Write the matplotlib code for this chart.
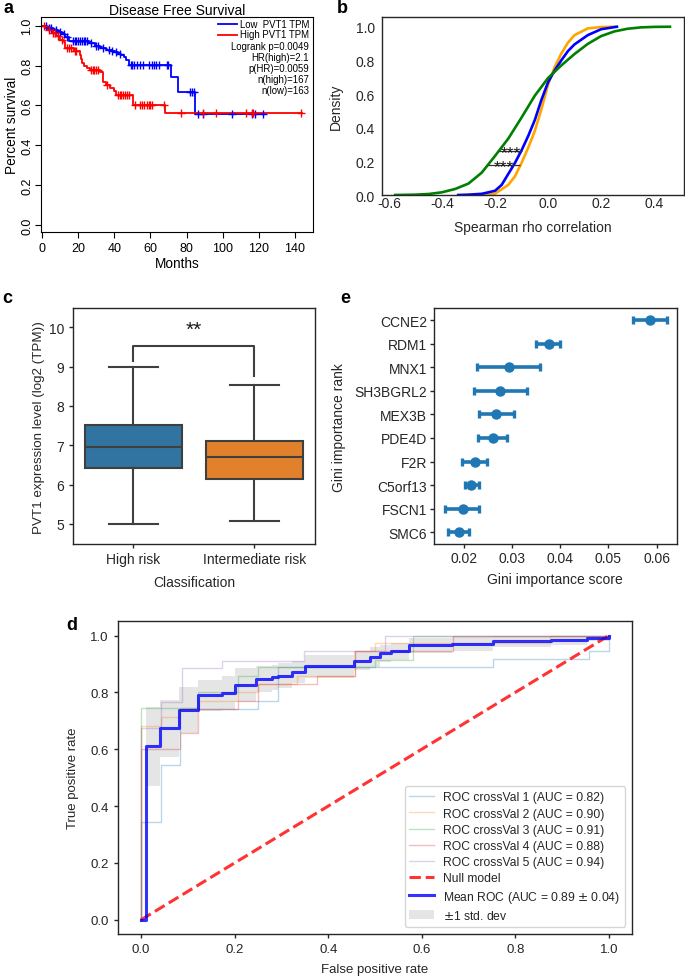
import numpy as np
import matplotlib
matplotlib.use("Agg")
import matplotlib.pyplot as plt
from matplotlib.lines import Line2D
from matplotlib.patches import Patch

plt.rcParams['font.family'] = ['Liberation Sans', 'DejaVu Sans']
plt.rcParams['axes.unicode_minus'] = False

W, H = 685, 979

# ---- a: Kaplan-Meier, disease free survival
low_t = [0, 3, 6, 9, 11, 13, 15, 26, 29.5, 32, 35.5, 38.7, 40.5, 42, 44, 45.5, 46.6, 48, 71.5, 75.5, 84.5, 122.5]
low_s = [1.0, 0.99, 0.98, 0.97, 0.96, 0.945, 0.925, 0.915, 0.90, 0.89, 0.88, 0.875, 0.87, 0.86, 0.855, 0.845,
         0.83, 0.803, 0.742, 0.667, 0.558, 0.558]
low_cens = [2, 4, 5, 8, 10, 12, 14, 17, 18, 19, 20, 21, 22, 23, 24, 25, 27, 30, 31, 34, 37, 39, 41, 43,
            49, 50, 51, 52.5, 54, 56, 59, 61, 62, 63, 65, 69, 70, 82, 83, 84, 86.5, 89, 105, 116, 118, 122.5]
high_t = [0, 2, 3.5, 5.5, 8, 10, 12, 13, 17.5, 20.8, 21.5, 22, 23, 24.9, 26.7, 32, 33.7, 35.5, 37.8, 39.6,
          41, 50.3, 68, 144]
high_s = [1.0, 0.99, 0.98, 0.965, 0.95, 0.93, 0.917, 0.89, 0.875, 0.855, 0.833, 0.815, 0.80, 0.787, 0.778,
          0.767, 0.717, 0.703, 0.687, 0.67, 0.65, 0.60, 0.562, 0.562]
high_cens = [1, 4, 6, 7, 9, 11, 14, 15, 16, 18, 19, 27, 28, 29, 30, 31, 36, 42, 43, 44, 45, 46, 47, 48,
             51.6, 54.4, 55.2, 56.2, 58, 59, 60, 61, 67.3, 77, 89, 96.5, 113, 116, 117, 143.6]
km_stats = ["Logrank p=0.0049", "HR(high)=2.1", "p(HR)=0.0059", "n(high)=167", "n(low)=163"]

# ---- b: cumulative density of spearman rho
green_x = [-0.577, -0.5, -0.45, -0.4, -0.35, -0.3, -0.25, -0.2, -0.15, -0.1, -0.05, 0.0, 0.05, 0.1, 0.15,
           0.2, 0.25, 0.3, 0.35, 0.4, 0.46]
green_y = [0.0, 0.002, 0.006, 0.016, 0.036, 0.068, 0.133, 0.232, 0.335, 0.46, 0.59, 0.695, 0.77, 0.838,
           0.898, 0.944, 0.972, 0.988, 0.996, 0.999, 1.0]
blue_x = [-0.339, -0.3, -0.25, -0.2, -0.175, -0.15, -0.125, -0.1, -0.075, -0.05, -0.025, 0.0, 0.025, 0.05,
          0.075, 0.1, 0.15, 0.2, 0.26]
blue_y = [0.0, 0.002, 0.007, 0.025, 0.06, 0.125, 0.19, 0.265, 0.35, 0.445, 0.565, 0.67, 0.74, 0.80,
          0.855, 0.895, 0.95, 0.985, 1.0]
orange_x = [-0.295, -0.25, -0.2, -0.15, -0.125, -0.1, -0.075, -0.05, -0.025, 0.0, 0.025, 0.05, 0.075, 0.1,
            0.15, 0.2, 0.254]
orange_y = [0.0, 0.001, 0.008, 0.06, 0.11, 0.19, 0.28, 0.38, 0.51, 0.655, 0.76, 0.84, 0.905, 0.95,
            0.99, 0.998, 1.0]
sig_y = [0.263, 0.18]
sig_x0 = [-0.184, -0.226]
sig_x1 = [-0.1, -0.106]

# ---- c: PVT1 expression boxplot
risk_groups = ["High risk", "Intermediate risk"]
box_q1 = [6.42, 6.13]
box_med = [6.95, 6.69]
box_q3 = [7.52, 7.12]
box_lo = [5.0, 5.07]
box_hi = [9.0, 8.53]

# ---- e: gini importance
genes = ["CCNE2", "RDM1", "MNX1", "SH3BGRL2", "MEX3B", "PDE4D", "F2R", "C5orf13", "FSCN1", "SMC6"]
gini_mean = [0.0586, 0.03755, 0.0293, 0.0274, 0.0266, 0.0259, 0.0222, 0.0215, 0.0197, 0.0188]
gini_lo = [0.0551, 0.0350, 0.0226, 0.0220, 0.0230, 0.0229, 0.0195, 0.0201, 0.0160, 0.0167]
gini_hi = [0.0621, 0.0399, 0.0357, 0.0331, 0.0304, 0.0289, 0.0247, 0.0231, 0.0231, 0.0209]

# ---- d: ROC curves of the 5 folds
roc_fpr = [
    [0, 0, 0.042, 0.042, 0.083, 0.083, 0.25, 0.25, 0.293, 0.293, 0.752, 0.752, 0.958, 0.958, 1.0, 1.0],
    [0, 0, 0.042, 0.042, 0.083, 0.083, 0.124, 0.124, 0.2075, 0.2075, 0.25, 0.25, 0.334, 0.334, 0.457,
     0.457, 0.5, 0.5, 0.874, 0.874, 1.0],
    [0, 0, 0.122, 0.122, 0.2075, 0.2075, 0.25, 0.25, 0.5, 0.5, 0.582, 0.582, 1.0],
    [0, 0, 0.083, 0.083, 0.122, 0.122, 0.2075, 0.2075, 0.25, 0.25, 0.375, 0.375, 0.457, 0.457, 0.667,
     0.667, 1.0],
    [0, 0, 0.042, 0.042, 0.0885, 0.0885, 0.173, 0.173, 0.349, 0.349, 0.521, 0.521, 1.0],
]
roc_tpr = [
    [0, 0.344, 0.344, 0.543, 0.543, 0.743, 0.743, 0.771, 0.771, 0.889, 0.889, 0.918, 0.918, 0.945, 0.945, 1.0],
    [0, 0.683, 0.683, 0.713, 0.713, 0.745, 0.745, 0.771, 0.771, 0.80, 0.80, 0.83, 0.83, 0.859, 0.859,
     0.945, 0.945, 0.973, 0.973, 1.0, 1.0],
    [0, 0.745, 0.745, 0.80, 0.80, 0.859, 0.859, 0.889, 0.889, 0.914, 0.914, 1.0, 1.0],
    [0, 0.60, 0.60, 0.658, 0.658, 0.742, 0.742, 0.771, 0.771, 0.83, 0.83, 0.859, 0.859, 0.945, 0.945,
     1.0, 1.0],
    [0, 0.674, 0.674, 0.766, 0.766, 0.885, 0.885, 0.912, 0.912, 0.944, 0.944, 1.0, 1.0],
]
roc_auc = [0.82, 0.90, 0.91, 0.88, 0.94]
mean_fpr = [0, 0.01, 0.04, 0.081, 0.122, 0.173, 0.2, 0.245, 0.28, 0.293, 0.322, 0.35, 0.456, 0.49, 0.51,
            0.534, 0.573, 0.664, 0.752, 0.877, 0.953, 1.0]
mean_tpr = [0, 0.61, 0.674, 0.738, 0.79, 0.798, 0.825, 0.847, 0.853, 0.859, 0.872, 0.892, 0.912, 0.924,
            0.938, 0.945, 0.965, 0.969, 0.980, 0.985, 0.992, 1.0]
std_tpr = [0, 0.14, 0.10, 0.08, 0.055, 0.06, 0.06, 0.045, 0.045, 0.045, 0.04, 0.04, 0.035, 0.035, 0.03,
           0.03, 0.025, 0.025, 0.02, 0.02, 0.01, 0.0]
mean_auc, std_auc = 0.89, 0.04

ink = '.15'


def rect(left, top, right, bottom):
    return [left / W, 1 - bottom / H, (right - left) / W, (bottom - top) / H]


def style_axes(ax):
    for sp in ax.spines.values():
        sp.set_color(ink)
        sp.set_linewidth(1.0)
    ax.tick_params(colors=ink, labelcolor=ink)


fig = plt.figure(figsize=(W / 100, H / 100), dpi=100)

# ---------------- panel a
ax = fig.add_axes(rect(41, 18.3, 313, 233))
ax.step(low_t, low_s, where='post', color='blue', lw=1.3)
ax.step(high_t, high_s, where='post', color='red', lw=1.3)
for t, s, c, col in [(low_t, low_s, low_cens, 'blue'), (high_t, high_s, high_cens, 'red')]:
    idx = np.searchsorted(t, c, side='right') - 1
    ax.plot(c, np.array(s)[idx], '+', color=col, ms=5.5, mew=1.0)
ax.set_xlim(-0.55, 150)
ax.set_ylim(-0.035, 1.042)
ax.set_xticks(np.arange(0, 141, 20))
ax.set_yticks(np.arange(0, 1.01, 0.2))
ax.set_yticklabels([f"{v:.1f}" for v in np.arange(0, 1.01, 0.2)], rotation=90, va='center')
ax.tick_params(direction='out', length=4, width=0.8, labelsize=9, pad=3)
ax.tick_params(axis='y', pad=1.5)
ax.set_xlabel("Months", fontsize=9.8, labelpad=2)
ax.set_ylabel("Percent survival", fontsize=9.8, labelpad=2)
ax.set_title("Disease Free Survival", fontsize=10, pad=2)
for sp in ax.spines.values():
    sp.set_linewidth(0.8)


def ax_a(px, py):
    return (px - 41) / 272, (233 - py) / 214.7


for py, col, lab in [(25, 'blue', "Low  PVT1 TPM"), (35.5, 'red', "High PVT1 TPM")]:
    x0, y0 = ax_a(218.3, py)
    x1, _ = ax_a(237.3, py)
    ax.add_line(Line2D([x0, x1], [y0, y0], color=col, lw=1.3, transform=ax.transAxes))
    tx, _ = ax_a(240, py)
    ax.text(tx, y0, lab, transform=ax.transAxes, fontsize=6.9, va='center', ha='left')
for i, s in enumerate(km_stats):
    tx, ty = ax_a(309.3, 46.7 + i * 11)
    ax.text(tx, ty, s, transform=ax.transAxes, fontsize=6.9, va='center', ha='right')

# ---------------- panel b
ax = fig.add_axes(rect(381.7, 18.3, 684, 196))
style_axes(ax)
ax.plot(orange_x, orange_y, color='orange', lw=1.9)
ax.plot(blue_x, blue_y, color='blue', lw=1.9)
ax.plot(green_x, green_y, color='green', lw=1.9)
for y, x0, x1 in zip(sig_y, sig_x0, sig_x1):
    ax.hlines(y, x0, x1, color='.2', lw=0.9)
    ax.text((x0 + x1) / 2, y - 0.036, "***", ha='center', va='baseline', fontsize=12.5, color='.1')
ax.set_xlim(-0.6275, 0.513)
ax.set_ylim(0, 1.056)
ax.set_xticks(np.arange(-0.6, 0.41, 0.2))
ax.set_xticklabels([f"{v:.1f}" for v in np.arange(-0.6, 0.41, 0.2)])
ax.set_yticks(np.arange(0, 1.01, 0.2))
ax.set_yticklabels([f"{v:.1f}" for v in np.arange(0, 1.01, 0.2)])
ax.tick_params(length=0, labelsize=10)
ax.tick_params(axis='x', pad=1)
ax.tick_params(axis='y', pad=5)
ax.set_xlabel("Spearman rho correlation", fontsize=10, color=ink, labelpad=7)
ax.set_ylabel("Density", fontsize=10, color=ink, labelpad=9)

# ---------------- panel c
ax = fig.add_axes(rect(72.7, 309.3, 315, 545))
style_axes(ax)
stats = []
for i in range(len(risk_groups)):
    stats.append(dict(med=box_med[i], q1=box_q1[i], q3=box_q3[i], whislo=box_lo[i], whishi=box_hi[i],
                      fliers=[], label=risk_groups[i]))
lc = '#3f3f3f'
bp = ax.bxp(stats, positions=range(len(risk_groups)), widths=0.8, capwidths=0.4, patch_artist=True,
            showfliers=False,
            boxprops=dict(edgecolor=lc, linewidth=1.5),
            medianprops=dict(color=lc, linewidth=1.5),
            whiskerprops=dict(color=lc, linewidth=1.5),
            capprops=dict(color=lc, linewidth=1.5))
for patch, col in zip(bp['boxes'], ['#3274a1', '#e1812c']):
    patch.set_facecolor(col)
ax.plot([0, 0, 1, 1], [9.13, 9.51, 9.51, 8.75], color=lc, lw=1.5)
ax.text(0.5, 9.7, "**", ha='center', va='bottom', fontsize=15, color='.1')
ax.set_xlim(-0.5, 1.5)
ax.set_ylim(4.49, 10.48)
ax.set_yticks(range(5, 11))
ax.tick_params(length=3, width=1, labelsize=10, pad=3)
ax.set_xlabel("Classification", fontsize=10, color=ink, labelpad=6)
ax.set_ylabel("PVT1 expression level (log2 (TPM))", fontsize=9.6, color=ink, labelpad=3)

# ---------------- panel e
ax = fig.add_axes(rect(434, 309.3, 676.7, 545))
style_axes(ax)
pos = np.arange(len(genes))
m = np.array(gini_mean)
ax.errorbar(m, pos, xerr=[m - np.array(gini_lo), np.array(gini_hi) - m], fmt='o', color='#1f77b4',
            ms=6.5, elinewidth=2.6, capsize=3, capthick=2.4)
ax.set_yticks(pos)
ax.set_yticklabels(genes)
ax.set_ylim(len(genes) - 0.5, -0.5)
ax.set_xlim(0.0137, 0.0642)
ax.set_xticks([0.02, 0.03, 0.04, 0.05, 0.06])
ax.set_xticklabels(["0.02", "0.03", "0.04", "0.05", "0.06"])
ax.tick_params(length=3, width=1, labelsize=10, pad=2)
ax.set_xlabel("Gini importance score", fontsize=10, color=ink, labelpad=5)
ax.set_ylabel("Gini importance rank", fontsize=10, color=ink, labelpad=6)

# ---------------- panel d
ax = fig.add_axes(rect(117.7, 622.3, 632.3, 935))
style_axes(ax)
fold_cols = ['tab:blue', 'tab:orange', 'tab:green', 'tab:red', 'tab:purple']
handles = []
for k in range(len(roc_fpr)):
    ln, = ax.plot(roc_fpr[k], roc_tpr[k], color=fold_cols[k], lw=1, alpha=0.3,
                  label=f"ROC crossVal {k + 1} (AUC = {roc_auc[k]:.2f})")
    handles.append(ln)
ln, = ax.plot([0, 1], [0, 1], linestyle='--', lw=2.2, color='r', alpha=0.8, label='Null model')
handles.append(ln)
mt = np.array(mean_tpr)
sd = np.array(std_tpr)
ax.fill_between(mean_fpr, np.maximum(mt - sd, 0), np.minimum(mt + sd, 1), step='post', color='grey',
                alpha=0.2, lw=0)
ln, = ax.plot(mean_fpr, mean_tpr, drawstyle='steps-post', color='b', lw=2.2, alpha=0.8,
              label=f"Mean ROC (AUC = {mean_auc:.2f} $\\pm$ {std_auc:.2f})")
handles.append(ln)
handles.append(Patch(facecolor='grey', alpha=0.2, label=r'$\pm$1 std. dev'))
ax.set_xlim(-0.05, 1.05)
ax.set_ylim(-0.05, 1.05)
ax.set_xticks(np.arange(0, 1.01, 0.2))
ax.set_xticklabels([f"{v:.1f}" for v in np.arange(0, 1.01, 0.2)])
ax.set_yticks(np.arange(0, 1.01, 0.2))
ax.set_yticklabels([f"{v:.1f}" for v in np.arange(0, 1.01, 0.2)])
ax.tick_params(length=3, width=1, labelsize=9.5, pad=3.5)
ax.set_xlabel("False positive rate", fontsize=9.5, color=ink, labelpad=6)
ax.set_ylabel("True positive rate", fontsize=9.5, color=ink, labelpad=8)
leg = ax.legend(handles=handles, loc='lower right', fontsize=8.7, labelspacing=0.35, borderaxespad=0.6,
                handlelength=2.0)
for t in leg.get_texts():
    t.set_color(ink)

# ---------------- panel letters
for lab, px, py in [('a', 4, 13.3), ('b', 337, 13.3), ('c', 2, 303.3), ('e', 340, 303.3), ('d', 66, 630)]:
    fig.text(px / W, 1 - py / H, lab, fontsize=13, fontweight='bold', va='baseline', ha='left')

fig.savefig("out.png", dpi=100)
